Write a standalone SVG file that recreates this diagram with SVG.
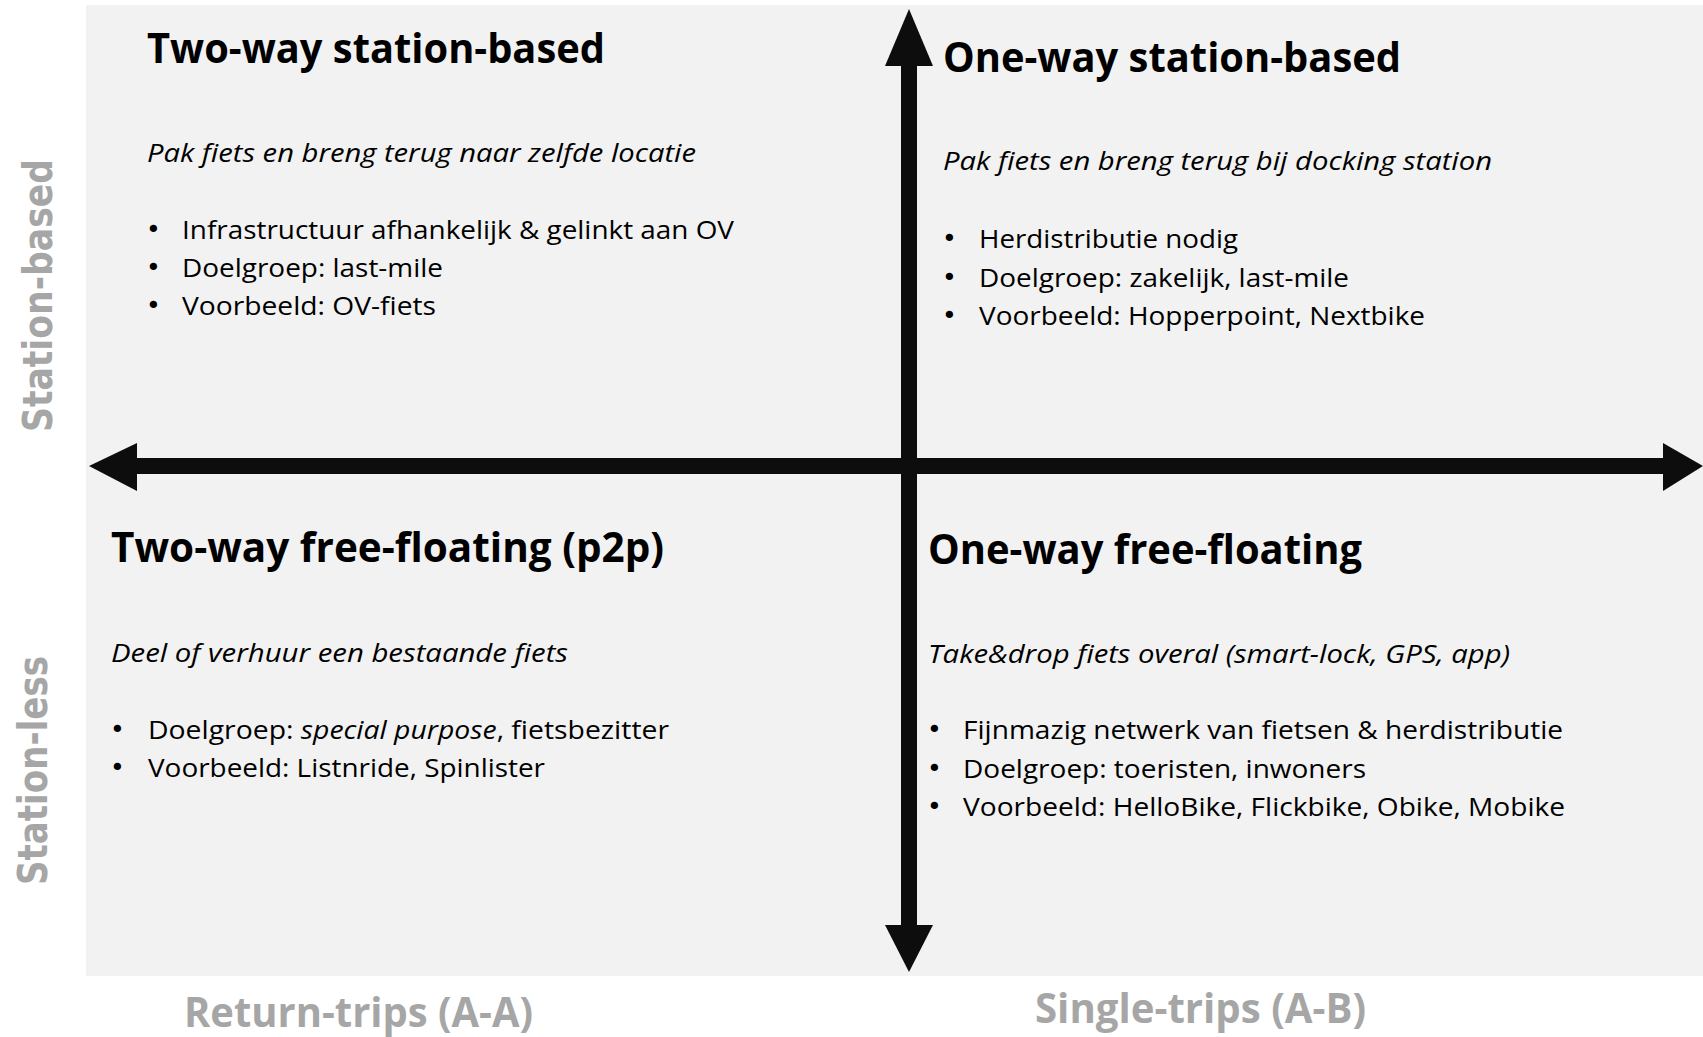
<svg xmlns="http://www.w3.org/2000/svg" width="1703" height="1037" viewBox="0 0 1703 1037">
<style>
.title{font-family:"Open Sans","Liberation Sans",sans-serif;font-weight:700;font-size:42px;fill:#000}
.sub{font-family:"Open Sans","Liberation Sans",sans-serif;font-style:italic;font-size:25.5px;fill:#000}
.body{font-family:"Open Sans","Liberation Sans",sans-serif;font-size:25.5px;fill:#000}
.bul{font-family:"DejaVu Sans","Liberation Sans",sans-serif;font-size:25px;fill:#000}
.it{font-style:italic}
.axis{font-family:"Open Sans","Liberation Sans",sans-serif;font-weight:700;font-size:42px;fill:#A6A6A6}
.side{font-family:"DejaVu Sans","Liberation Sans",sans-serif;font-weight:700;font-size:40px;fill:#A6A6A6}
.arrow{fill:#0D0D0D}
</style>
<rect x="0" y="0" width="1703" height="1037" fill="#FFFFFF"/>
<rect id="background" x="86" y="5" width="1617" height="971" fill="#F2F2F2"/>

<g id="connectors">
  <rect class="arrow" x="136" y="458" width="1528" height="16"/>
  <polygon class="arrow" points="89,466 137,443 137,491"/>
  <polygon class="arrow" points="1703,466 1663,443 1663,491"/>
  <rect class="arrow" x="901" y="65" width="16" height="861"/>
  <polygon class="arrow" points="909,9 885,66 933,66"/>
  <polygon class="arrow" points="909,972 885,925 933,925"/>
</g>

<g id="q-two-way-station">
  <text class="title" x="147" y="63" textLength="458" lengthAdjust="spacingAndGlyphs">Two-way station-based</text>
  <text class="sub" x="147" y="162" textLength="549" lengthAdjust="spacingAndGlyphs">Pak fiets en breng terug naar zelfde locatie</text>
  <text class="bul" x="146" y="238">•</text>
  <text class="body" x="182" y="239" textLength="552" lengthAdjust="spacingAndGlyphs">Infrastructuur afhankelijk &amp; gelinkt aan OV</text>
  <text class="bul" x="146" y="276">•</text>
  <text class="body" x="182" y="277" textLength="261" lengthAdjust="spacingAndGlyphs">Doelgroep: last-mile</text>
  <text class="bul" x="146" y="314">•</text>
  <text class="body" x="182" y="315" textLength="254" lengthAdjust="spacingAndGlyphs">Voorbeeld: OV-fiets</text>
</g>

<g id="q-one-way-station">
  <text class="title" x="943" y="72" textLength="458" lengthAdjust="spacingAndGlyphs">One-way station-based</text>
  <text class="sub" x="943" y="170" textLength="549" lengthAdjust="spacingAndGlyphs">Pak fiets en breng terug bij docking station</text>
  <text class="bul" x="942" y="247">•</text>
  <text class="body" x="979" y="248" textLength="259" lengthAdjust="spacingAndGlyphs">Herdistributie nodig</text>
  <text class="bul" x="942" y="286">•</text>
  <text class="body" x="979" y="287" textLength="370" lengthAdjust="spacingAndGlyphs">Doelgroep: zakelijk, last-mile</text>
  <text class="bul" x="942" y="324">•</text>
  <text class="body" x="979" y="325" textLength="446" lengthAdjust="spacingAndGlyphs">Voorbeeld: Hopperpoint, Nextbike</text>
</g>

<g id="q-two-way-free">
  <text class="title" x="111" y="562" textLength="553" lengthAdjust="spacingAndGlyphs">Two-way free-floating (p2p)</text>
  <text class="sub" x="111" y="662" textLength="457" lengthAdjust="spacingAndGlyphs">Deel of verhuur een bestaande fiets</text>
  <text class="bul" x="110" y="738">•</text>
  <text class="body" x="148" y="739" textLength="521" lengthAdjust="spacingAndGlyphs">Doelgroep: <tspan class="it">special purpose</tspan>, fietsbezitter</text>
  <text class="bul" x="110" y="776">•</text>
  <text class="body" x="148" y="777" textLength="397" lengthAdjust="spacingAndGlyphs">Voorbeeld: Listnride, Spinlister</text>
</g>

<g id="q-one-way-free">
  <text class="title" x="928" y="564" textLength="434" lengthAdjust="spacingAndGlyphs">One-way free-floating</text>
  <text class="sub" x="928" y="663" textLength="582" lengthAdjust="spacingAndGlyphs">Take&amp;drop fiets overal (smart-lock, GPS, app)</text>
  <text class="bul" x="927" y="738">•</text>
  <text class="body" x="963" y="739" textLength="600" lengthAdjust="spacingAndGlyphs">Fijnmazig netwerk van fietsen &amp; herdistributie</text>
  <text class="bul" x="927" y="777">•</text>
  <text class="body" x="963" y="778" textLength="403" lengthAdjust="spacingAndGlyphs">Doelgroep: toeristen, inwoners</text>
  <text class="bul" x="927" y="815">•</text>
  <text class="body" x="963" y="816" textLength="602" lengthAdjust="spacingAndGlyphs">Voorbeeld: HelloBike, Flickbike, Obike, Mobike</text>
</g>

<g id="axis-labels">
  <text class="side" transform="translate(52,432) rotate(-90)" x="0" y="0" textLength="273" lengthAdjust="spacingAndGlyphs">Station-based</text>
  <text class="side" transform="translate(47,885) rotate(-90)" x="0" y="0" textLength="229" lengthAdjust="spacingAndGlyphs">Station-less</text>
  <text class="axis" x="184" y="1027" textLength="349" lengthAdjust="spacingAndGlyphs">Return-trips (A-A)</text>
  <text class="axis" x="1035" y="1023" textLength="331" lengthAdjust="spacingAndGlyphs">Single-trips (A-B)</text>
</g>
</svg>
